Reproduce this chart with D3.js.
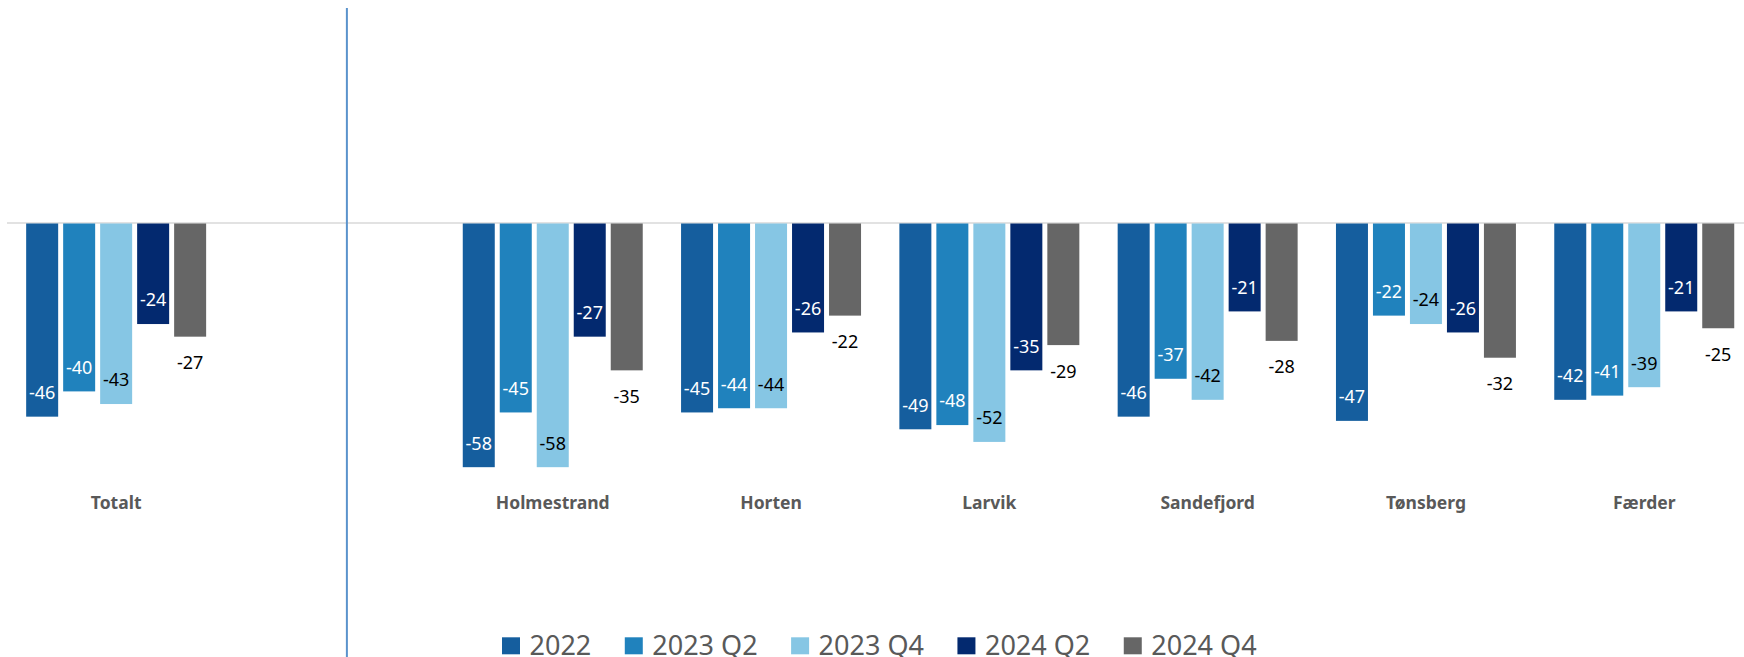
<!DOCTYPE html>
<html>
<head>
<meta charset="utf-8">
<script src="https://cdn.jsdelivr.net/npm/d3@7"></script>
<style>
  html, body { margin: 0; padding: 0; background: #fff; }
  svg { display: block; }
</style>
</head>
<body>
<svg id="chart" width="1744" height="657"></svg>
<script>
// ---- data ----
const categories = ["Totalt", "", "Holmestrand", "Horten", "Larvik", "Sandefjord", "Tønsberg", "Færder"];
const seriesNames = ["2022", "2023 Q2", "2023 Q4", "2024 Q2", "2024 Q4"];
const s2022   = [-46, null, -58, -45, -49, -46, -47, -42];
const s2023Q2 = [-40, null, -45, -44, -48, -37, -22, -41];
const s2023Q4 = [-43, null, -58, -44, -52, -42, -24, -39];
const s2024Q2 = [-24, null, -27, -26, -35, -21, -26, -21];
const s2024Q4 = [-27, null, -35, -22, -29, -28, -32, -25];
const seriesValues = [s2022, s2023Q2, s2023Q4, s2024Q2, s2024Q4];

// ---- styles ----
const colors = ["#155E9E", "#2082BD", "#86C6E4", "#03296F", "#666666"];
const labelColors = ["#ffffff", "#ffffff", "#000000", "#ffffff", "#000000"];
const labelInside = [true, true, true, true, false];

const svg = d3.select("#chart");

const x0 = d3.scaleBand().domain(categories).range([7, 7 + 8 * 218.3]).padding(0);
const x1 = d3.scaleBand().domain(seriesNames).range([0, x0.bandwidth()])
  .paddingInner(0.135).paddingOuter(0.518);
const y = d3.scaleLinear().domain([-60, 0]).range([475.6, 223]);

// zero line
svg.append("line")
  .attr("x1", x0.range()[0]).attr("x2", 1744)
  .attr("y1", y(0)).attr("y2", y(0))
  .attr("stroke", "#d9d9d9").attr("stroke-width", 1.6);

// vertical separator line
const sepX = x0("") + x0.bandwidth() * 0.557;
svg.append("line")
  .attr("x1", sepX).attr("x2", sepX)
  .attr("y1", 8).attr("y2", 657)
  .attr("stroke", "#5A93CC").attr("stroke-width", 2);

// bars
const rows = [];
categories.forEach((c, ci) => {
  seriesNames.forEach((s, si) => {
    const v = seriesValues[si][ci];
    if (v !== null && v !== undefined) rows.push({ c, s, si, v });
  });
});

const g = svg.append("g");
g.selectAll("rect.bar").data(rows).join("rect")
  .attr("class", "bar")
  .attr("x", d => x0(d.c) + x1(d.s))
  .attr("width", x1.bandwidth())
  .attr("y", d => y(0) + 0.5)
  .attr("height", d => y(d.v) - y(0) - 0.5)
  .attr("fill", d => colors[d.si]);

// data labels
g.selectAll("text.lbl").data(rows).join("text")
  .attr("class", "lbl")
  .attr("x", d => x0(d.c) + x1(d.s) + x1.bandwidth() / 2)
  .attr("y", d => labelInside[d.si] ? y(d.v) - 17.6 : y(d.v) + 32.5)
  .attr("text-anchor", "middle")
  .attr("font-family", "'Noto Sans', sans-serif")
  .attr("font-size", 18)
  .attr("fill", d => labelColors[d.si])
  .text(d => d.v);

// category labels
svg.selectAll("text.cat").data(categories.filter(c => c !== "")).join("text")
  .attr("class", "cat")
  .attr("x", d => x0(d) + x0.bandwidth() / 2)
  .attr("y", 509)
  .attr("text-anchor", "middle")
  .attr("font-family", "'Noto Sans', sans-serif")
  .attr("font-weight", "bold")
  .attr("font-size", 17.5)
  .attr("fill", "#595959")
  .text(d => d);

// legend
const legend = svg.append("g");
let lx = 502;
seriesNames.forEach((name, i) => {
  legend.append("rect")
    .attr("x", lx).attr("y", 637.3)
    .attr("width", 18).attr("height", 17)
    .attr("fill", colors[i]);
  const t = legend.append("text")
    .attr("x", lx + 27.5).attr("y", 655)
    .attr("font-family", "'Noto Sans', sans-serif")
    .attr("font-size", 27)
    .attr("fill", "#595959")
    .text(name);
  const w = t.node().getComputedTextLength();
  lx = lx + 27.5 + w + 33.5;
});
</script>
</body>
</html>
